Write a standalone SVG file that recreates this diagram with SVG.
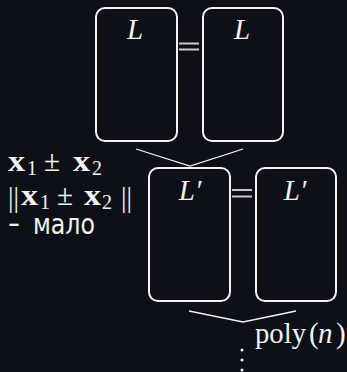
<svg xmlns="http://www.w3.org/2000/svg" width="347" height="372" viewBox="0 0 347 372">
<style>
.bg{fill:#0d1117}
.box{fill:none;stroke:#f2f2f2;stroke-width:2}
.eq{stroke:#c8c8c8;stroke-width:2}
.ln{stroke:#f2f2f2;stroke-width:1.3;fill:none}
.m{font-family:"Liberation Serif","DejaVu Serif",serif;fill:#f2f2f2;font-size:29px}
.it{font-style:italic}
.b{font-weight:bold}
.sub{font-size:20px}
.s{font-family:"DejaVu Sans","Noto Sans",sans-serif;fill:#f2f2f2;font-size:29px}
.dot{fill:#f2f2f2}
</style>
<rect class="bg" x="0" y="0" width="347" height="372"/>
<g id="connectors">
<polyline class="ln" points="136,149 190,166 243,149"/>
<polyline class="ln" points="189,311 243,322 296,311"/>
<line class="eq" x1="179" y1="43.5" x2="199" y2="43.5"/>
<line class="eq" x1="179" y1="49.5" x2="199" y2="49.5"/>
<line class="eq" x1="232" y1="190" x2="252" y2="190"/>
<line class="eq" x1="232" y1="196.5" x2="252" y2="196.5"/>
</g>
<g id="nodeL1">
<rect class="box" x="96" y="8" width="81" height="133" rx="9"/>
<text class="m it" x="135" y="39" text-anchor="middle">L</text>
</g>
<g id="nodeL2">
<rect class="box" x="203" y="8" width="80" height="133" rx="9"/>
<text class="m it" x="242" y="39" text-anchor="middle">L</text>
</g>
<g id="nodeLp1">
<rect class="box" x="149" y="168" width="81" height="133" rx="9"/>
<text class="m it" x="190" y="200" text-anchor="middle">L′</text>
</g>
<g id="nodeLp2">
<rect class="box" x="256" y="168" width="80" height="133" rx="9"/>
<text class="m it" x="295" y="200" text-anchor="middle">L′</text>
</g>
<g id="label-left">
<text class="m b" x="8" y="171" textLength="17" lengthAdjust="spacingAndGlyphs">x</text>
<text class="m sub" x="27" y="175">1</text>
<text class="m" x="44" y="171" textLength="16" lengthAdjust="spacingAndGlyphs">±</text>
<text class="m b" x="73" y="171" textLength="17" lengthAdjust="spacingAndGlyphs">x</text>
<text class="m sub" x="92" y="175">2</text>
<text class="m" x="8" y="207" textLength="11" lengthAdjust="spacingAndGlyphs">||</text>
<text class="m b" x="21" y="205" textLength="17" lengthAdjust="spacingAndGlyphs">x</text>
<text class="m sub" x="40" y="209">1</text>
<text class="m" x="57" y="205" textLength="16" lengthAdjust="spacingAndGlyphs">±</text>
<text class="m b" x="84" y="205" textLength="17" lengthAdjust="spacingAndGlyphs">x</text>
<text class="m sub" x="102" y="209">2</text>
<text class="m" x="121" y="207" textLength="11" lengthAdjust="spacingAndGlyphs">||</text>
<text class="s" x="8" y="234" textLength="12" lengthAdjust="spacingAndGlyphs">−</text>
<text class="s" x="33" y="234" textLength="62" lengthAdjust="spacingAndGlyphs">мало</text>
</g>
<g id="label-poly">
<text class="m" x="255" y="343" textLength="51" lengthAdjust="spacingAndGlyphs">poly</text>
<text class="m" x="309" y="343">(</text>
<text class="m it" x="318" y="343">n</text>
<text class="m" x="336" y="343">)</text>
<circle class="dot" cx="242" cy="350" r="1.5"/>
<circle class="dot" cx="242" cy="360" r="1.5"/>
<circle class="dot" cx="242" cy="370" r="1.5"/>
</g>
</svg>
